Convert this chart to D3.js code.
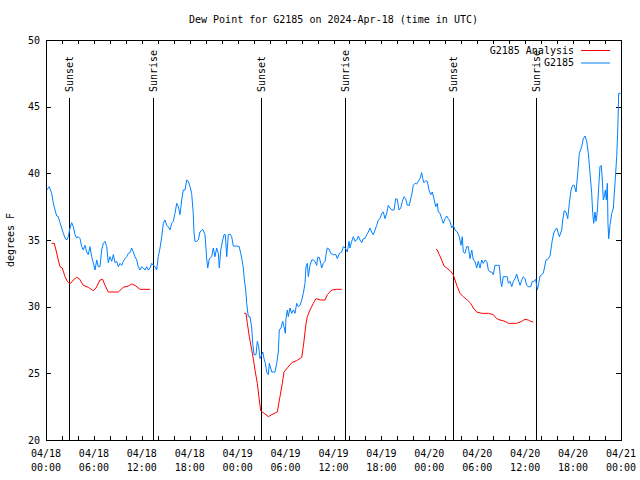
<!DOCTYPE html>
<html><head><meta charset="utf-8">
<script src="https://cdn.jsdelivr.net/npm/d3@7"></script>
<style>
body{margin:0;background:#fff}
svg{display:block}
text{font-family:"DejaVu Sans Mono",monospace;font-size:10px;fill:#000}
</style>
</head><body><svg id="c" width="640" height="480"></svg>
<script>
const titleText = "Dew Point for G2185 on 2024-Apr-18 (time in UTC)";
const yLabel = "degrees F";
const startTime = "2024-04-18T00:00:00Z";
const endTime = "2024-04-21T00:00:00Z";
const yTicks = [20, 25, 30, 35, 40, 45, 50];
const seriesNames = ["G2185 Analysis", "G2185"];
const seriesColors = ["#ff0000", "#0080ff"];

// observed (hours since start, degF)
const obsHours = [0.09,0.41,0.71,0.91,1.13,1.34,1.54,1.75,1.97,2.17,2.38,2.59,2.79,3.01,3.22,3.42,3.63,3.84,4.04,4.26,4.47,4.67,4.88,5.10,5.30,5.51,5.72,5.92,6.14,6.35,6.55,6.76,6.97,7.18,7.39,7.60,7.80,8.01,8.23,8.43,8.64,8.85,9.05,9.27,9.48,9.68,9.89,10.11,10.31,10.52,10.73,10.93,11.14,11.36,11.56,11.77,11.98,12.18,12.40,12.61,12.81,13.02,13.24,13.44,13.65,13.86,14.06,14.28,14.49,14.69,14.90,15.11,15.31,15.53,15.74,15.94,16.15,16.37,16.57,16.78,16.99,17.19,17.41,17.62,17.82,18.03,18.24,18.44,18.53,18.66,18.87,19.07,19.28,19.62,19.91,20.12,20.25,20.45,20.75,20.95,21.16,21.37,21.58,21.70,21.88,22.13,22.29,22.45,22.63,22.83,23.04,23.25,23.45,23.88,24.20,24.38,24.58,24.71,24.83,25.01,25.13,25.33,25.55,25.76,25.88,26.05,26.30,26.46,26.63,26.80,27.01,27.14,27.30,27.46,27.64,27.84,27.96,28.14,28.26,28.68,28.89,29.09,29.21,29.43,29.64,29.80,29.97,30.05,30.22,30.34,30.55,30.77,30.97,31.18,31.39,31.59,31.81,32.02,32.22,32.43,32.56,32.72,32.85,33.06,33.27,33.47,33.68,33.90,34.02,34.22,34.40,34.52,34.72,34.94,35.06,35.22,35.47,35.65,35.98,36.31,36.48,36.73,37.03,37.23,37.48,37.73,37.94,38.07,38.28,38.48,38.69,38.91,39.11,39.32,39.53,39.73,39.94,40.16,40.36,40.57,40.78,40.98,41.20,41.41,41.61,41.82,42.04,42.24,42.45,42.66,42.86,43.08,43.29,43.58,43.79,43.99,44.20,44.42,44.62,44.83,45.04,45.24,45.49,45.67,45.83,45.99,46.21,46.42,46.62,46.83,47.04,47.17,47.33,47.55,47.75,47.96,48.17,48.37,48.58,48.80,49.00,49.12,49.34,49.55,49.75,49.96,50.18,50.38,50.59,50.80,51.00,51.21,51.50,51.75,51.97,52.13,52.25,52.47,52.68,52.88,53.09,53.31,53.51,53.72,53.93,54.13,54.35,54.56,54.76,54.97,55.19,55.39,55.60,55.81,56.01,56.22,56.51,56.76,56.94,57.06,57.26,57.48,57.76,57.89,58.10,58.32,58.52,58.73,58.94,59.14,59.36,59.57,59.77,59.98,60.19,60.39,60.69,60.89,61.11,61.32,61.52,61.70,61.86,62.27,62.61,62.90,63.11,63.40,63.61,63.95,64.28,64.58,64.70,64.90,65.11,65.33,65.53,65.74,65.95,66.15,66.37,66.58,66.78,67.08,67.28,67.49,67.71,67.91,68.12,68.33,68.46,68.58,68.75,68.87,69.03,69.21,69.37,69.53,69.66,69.78,69.91,70.04,70.16,70.29,70.37,70.46,70.62,70.84,71.04,71.25,71.46,71.58,71.71,71.96];
const obsValues = [38.75,39.0,38.5,37.8,37.25,36.8,36.75,36.3,35.9,35.5,35.15,35.0,35.25,35.9,36.3,36.0,35.4,35.15,35.25,35.1,34.5,34.25,34.6,34.1,33.9,34.5,33.75,33.3,32.75,33.5,33.0,33.0,34.25,34.75,34.9,34.5,33.3,33.75,33.4,33.9,33.3,33.4,33.0,33.25,33.1,33.4,33.6,33.75,34.0,34.05,34.4,34.1,33.75,33.5,33.0,32.75,33.0,32.9,32.75,33.0,32.75,32.9,33.25,33.1,33.0,32.75,33.75,34.4,35.25,36.25,36.5,36.1,36.0,35.75,36.25,36.4,37.0,37.75,37.5,36.9,38.0,38.75,38.75,39.5,39.4,39.0,38.5,37.0,35.6,34.9,34.9,35.0,35.6,35.8,35.4,33.6,32.9,33.6,33.75,34.4,33.75,34.4,34.0,32.9,34.25,35.0,35.4,35.4,33.75,35.4,35.45,35.25,34.55,34.55,34.5,34.0,33.4,32.9,32.1,31.25,30.25,29.25,29.25,28.4,27.25,26.4,26.4,27.4,27.0,26.1,26.4,26.6,26.1,25.75,25.1,24.9,25.75,25.4,25.1,25.1,25.75,26.6,28.25,28.4,28.9,28.5,28.0,29.1,29.75,29.25,29.9,29.5,29.75,29.5,30.25,30.0,30.1,30.5,31.0,31.75,33.0,33.25,32.25,33.1,33.5,33.5,33.4,33.1,33.7,33.7,33.25,32.9,33.25,33.4,33.9,34.4,34.3,34.0,33.9,33.9,33.6,34.0,34.1,34.5,34.4,34.1,34.9,34.4,34.9,35.25,34.9,35.0,35.3,35.0,34.8,35.1,35.1,35.4,35.6,35.9,35.6,35.4,35.75,36.1,36.5,36.6,37.0,37.1,36.6,37.0,37.6,37.4,37.25,37.25,38.1,38.05,37.25,37.4,37.9,38.25,38.1,37.6,37.6,38.1,38.5,39.1,39.25,39.2,39.4,39.6,40.05,39.6,39.3,39.45,39.4,38.75,38.4,38.6,38.1,37.5,37.75,37.1,37.0,36.6,36.25,36.6,36.8,36.6,36.4,35.9,36.1,35.75,35.6,35.25,34.6,35.25,34.1,34.0,34.5,34.5,33.6,34.25,33.5,33.4,32.9,33.4,32.9,33.5,33.25,33.5,33.4,32.75,32.6,32.6,32.4,33.1,33.1,33.1,31.9,31.5,32.25,32.25,32.25,31.75,31.9,31.5,31.9,32.1,32.45,32.0,31.6,32.0,32.25,32.1,31.6,31.5,31.5,31.9,31.9,32.05,31.25,31.75,32.3,32.5,33.5,33.6,33.8,35.0,35.6,35.9,35.25,35.75,36.5,37.2,37.1,36.6,37.75,38.75,39.1,39.1,38.6,40.0,41.5,42.0,42.6,42.8,42.4,41.5,40.0,38.5,37.0,36.25,37.1,36.4,37.1,39.0,40.5,40.6,39.5,38.0,38.25,38.75,38.0,39.25,36.25,35.1,36.1,37.0,37.4,39.25,41.25,43.0,46.0,46.0];

// analysis (hours since start, degF); null marks a gap
const anaHours = [0.71,1.04,1.25,1.54,1.75,2.04,2.38,2.67,2.88,3.09,3.42,3.84,4.17,4.67,5.30,5.92,6.26,6.76,7.10,7.39,7.80,9.05,9.68,10.31,10.73,11.14,11.77,13.02,
  18.0,
  24.83,25.04,25.21,25.46,25.76,25.96,26.17,26.46,26.71,26.88,27.42,27.84,28.26,28.96,29.30,29.59,29.80,30.22,30.77,31.39,32.02,32.22,32.56,32.72,33.06,33.47,33.81,34.40,34.94,35.22,35.78,36.40,37.03,
  44.0,
  48.83,49.00,49.25,49.55,49.84,50.18,50.59,51.00,51.21,51.50,51.84,52.25,52.76,53.18,53.51,53.93,54.56,55.39,56.01,56.44,56.85,57.48,57.89,58.94,59.57,59.98,60.39,60.69,61.02];
const anaValues = [34.75,34.75,34.25,33.5,33.0,32.9,32.25,31.9,31.75,31.75,32.0,32.2,32.1,31.6,31.45,31.2,31.4,32.0,32.05,31.6,31.1,31.1,31.45,31.55,31.7,31.6,31.3,31.3,
  null,
  29.5,29.5,28.75,27.75,26.75,26.1,25.25,24.25,23.0,22.2,21.95,21.75,21.9,22.1,23.25,24.25,25.1,25.4,25.8,25.95,26.2,27.0,28.75,29.25,29.75,30.25,30.6,30.5,30.5,30.9,31.25,31.3,31.3,
  null,
  34.3,34.25,33.9,33.5,33.05,32.9,32.7,32.4,32.0,31.5,31.0,30.75,30.5,30.25,29.9,29.6,29.5,29.5,29.4,29.1,29.0,28.9,28.75,28.75,28.9,29.05,29.0,28.9,28.85];

const eventLabels = ["Sunset", "Sunrise", "Sunset", "Sunrise", "Sunset", "Sunrise"];
const eventTimes = ["2024-04-18T02:56Z", "2024-04-18T13:25Z", "2024-04-19T02:57Z", "2024-04-19T13:23Z", "2024-04-20T03:00Z", "2024-04-20T13:24Z"];

const L = 46, R = 621, T = 40, B = 440;
const svg = d3.select("#c");
const t0 = new Date(startTime).getTime();
const toDate = h => new Date(t0 + h * 3600e3);

const x = d3.scaleUtc().domain([new Date(startTime), new Date(endTime)]).range([L, R]);
const y = d3.scaleLinear().domain([20, 50]).range([B, T]);

// title
svg.append("text").attr("x", (L + R) / 2).attr("y", 23).attr("text-anchor", "middle").text(titleText);

// y label
svg.append("text").attr("transform", "translate(13.5,240) rotate(-90)").attr("text-anchor", "middle").text(yLabel);

function styleAxis(g) {
  g.select(".domain").remove();
  g.attr("font-family", null).attr("font-size", null);
  g.selectAll(".tick line").attr("stroke", "#000").attr("shape-rendering", "crispEdges");
}

svg.append("g").attr("transform", `translate(0,${B})`)
  .call(d3.axisBottom(x).ticks(d3.utcHour.every(2)).tickSize(-4).tickFormat(""))
  .call(styleAxis);
svg.append("g").attr("transform", `translate(0,${T})`)
  .call(d3.axisTop(x).ticks(d3.utcHour.every(2)).tickSize(-4).tickFormat(""))
  .call(styleAxis);
svg.append("g").attr("transform", `translate(${L},0)`)
  .call(d3.axisLeft(y).tickValues(yTicks).tickSize(-5).tickPadding(6).tickFormat(d3.format("d")))
  .call(styleAxis);
svg.append("g").attr("transform", `translate(${R},0)`)
  .call(d3.axisRight(y).tickValues(yTicks).tickSize(-5).tickFormat(""))
  .call(styleAxis);

// two-line x labels
const fmtD = d3.utcFormat("%m/%d"), fmtH = d3.utcFormat("%H:%M");
const majors = x.ticks(d3.utcHour.every(6));
const xl = svg.append("g");
majors.forEach(d => {
  xl.append("text").attr("x", x(d)).attr("y", 457).attr("text-anchor", "middle").text(fmtD(d));
  xl.append("text").attr("x", x(d)).attr("y", 471).attr("text-anchor", "middle").text(fmtH(d));
});

// sunrise / sunset
const ev = svg.append("g");
eventTimes.forEach((t, i) => {
  const xv = Math.round(x(new Date(t))) + 0.5;
  ev.append("line").attr("x1", xv).attr("x2", xv).attr("y1", 98).attr("y2", B)
    .attr("stroke", "#000").attr("stroke-width", 1).attr("shape-rendering", "crispEdges");
  ev.append("text").attr("transform", `translate(${xv + 3.5},92) rotate(-90)`).attr("text-anchor", "start").text(eventLabels[i]);
});

// series
const line = d3.line().defined(d => d.v != null).x(d => x(toDate(d.h))).y(d => y(d.v));
const ana = anaHours.map((h, i) => ({h, v: anaValues[i]}));
const obs = obsHours.map((h, i) => ({h, v: obsValues[i]}));
svg.append("path").datum(ana).attr("d", line).attr("fill", "none").attr("stroke", seriesColors[0]).attr("stroke-width", 1);
svg.append("path").datum(obs).attr("d", line).attr("fill", "none").attr("stroke", seriesColors[1]).attr("stroke-width", 1);

// frame
svg.append("rect").attr("x", L + 0.5).attr("y", T + 0.5).attr("width", R - L).attr("height", B - T)
  .attr("fill", "none").attr("stroke", "#000").attr("stroke-width", 1);

// legend
const lg = svg.append("g");
seriesNames.forEach((n, i) => {
  const yy = 50 + i * 12.5;
  lg.append("text").attr("x", 574).attr("y", yy + 3.5).attr("text-anchor", "end").text(n);
  lg.append("line").attr("x1", 581).attr("x2", 610).attr("y1", yy + 0.5).attr("y2", yy + 0.5)
    .attr("stroke", seriesColors[i]).attr("stroke-width", 1);
});
</script>
</body></html>
